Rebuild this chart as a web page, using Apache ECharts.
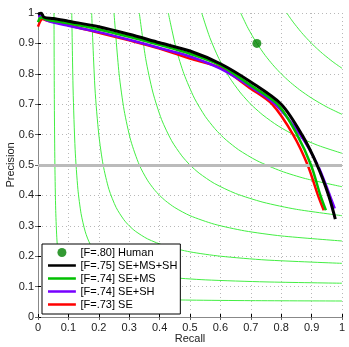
<!DOCTYPE html>
<html>
<head>
<meta charset="utf-8">
<script src="https://cdn.jsdelivr.net/npm/echarts@6/dist/echarts.min.js"></script>
<style>
  html, body { margin: 0; padding: 0; background: #fff; }
  #chart { width: 349px; height: 347px; }
</style>
</head>
<body>
<div id="chart"></div>
<script>
// human point
var humanRecall = [0.72];
var humanPrecision = [0.90];

// SE+MS+SH (black)
var seMsShRecall = [0, 0.01, 0.02, 0.05, 0.1, 0.2, 0.3, 0.4, 0.5, 0.6, 0.7, 0.8, 0.868, 0.918, 0.956, 0.978];
var seMsShPrecision = [0.995, 1.0, 0.986, 0.982, 0.973, 0.955, 0.93, 0.902, 0.875, 0.833, 0.773, 0.70, 0.60, 0.50, 0.40, 0.322];

// SE+MS (green)
var seMsRecall = [0, 0.01, 0.03, 0.1, 0.2, 0.3, 0.4, 0.5, 0.6, 0.7, 0.788, 0.852, 0.898, 0.929, 0.947];
var seMsPrecision = [0.97, 0.985, 0.978, 0.966, 0.946, 0.922, 0.895, 0.866, 0.828, 0.762, 0.70, 0.60, 0.50, 0.40, 0.351];

// SE+SH (purple)
var seShRecall = [0, 0.01, 0.03, 0.1, 0.2, 0.3, 0.4, 0.5, 0.6, 0.7, 0.78, 0.862, 0.92, 0.96, 0.976];
var seShPrecision = [0.99, 0.99, 0.975, 0.958, 0.937, 0.912, 0.885, 0.857, 0.817, 0.757, 0.70, 0.60, 0.50, 0.40, 0.357];

// SE (red)
var seRecall = [0, 0.015, 0.03, 0.1, 0.2, 0.3, 0.4, 0.5, 0.6, 0.7, 0.77, 0.839, 0.887, 0.921, 0.94];
var sePrecision = [0.955, 0.98, 0.975, 0.96, 0.935, 0.91, 0.883, 0.85, 0.82, 0.751, 0.70, 0.60, 0.50, 0.40, 0.351];

// iso-F contours, upper half [recall, precision] (curves are symmetric)
var isoF10 = [[0.0526, 1], [0.0538, 0.7], [0.0556, 0.5], [0.0583, 0.35], [0.0625, 0.25], [0.0692, 0.18], [0.0778, 0.14], [0.0857, 0.12], [0.1, 0.1]];
var isoF20 = [[0.1111, 1], [0.1154, 0.75], [0.1222, 0.55], [0.1313, 0.42], [0.1417, 0.34], [0.1556, 0.28], [0.1714, 0.24], [0.2, 0.2]];
var isoF30 = [[0.1765, 1], [0.1875, 0.75], [0.2, 0.6], [0.2143, 0.5], [0.2333, 0.42], [0.2571, 0.36], [0.2824, 0.32], [0.3, 0.3]];
var isoF40 = [[0.25, 1], [0.2667, 0.8], [0.2833, 0.68], [0.3053, 0.58], [0.3333, 0.5], [0.36, 0.45], [0.3818, 0.42], [0.4, 0.4]];
var isoF50 = [[0.3333, 1], [0.3542, 0.85], [0.3776, 0.74], [0.4063, 0.65], [0.4394, 0.58], [0.4732, 0.53], [0.5, 0.5]];
var isoF60 = [[0.4286, 1], [0.4552, 0.88], [0.48, 0.8], [0.5143, 0.72], [0.55, 0.66], [0.5813, 0.62], [0.6, 0.6]];
var isoF70 = [[0.5385, 1], [0.5649, 0.92], [0.595, 0.85], [0.6284, 0.79], [0.6641, 0.74], [0.6903, 0.71], [0.7, 0.7]];
var isoF80 = [[0.6667, 1], [0.6909, 0.95], [0.72, 0.9], [0.7478, 0.86], [0.7721, 0.83], [0.7902, 0.81], [0.8, 0.8]];
var isoF90 = [[0.8182, 1], [0.8394, 0.97], [0.8633, 0.94], [0.8809, 0.92], [0.9, 0.9]];

var chanceLevel = 0.5;

var legendNames = ['[F=.80] Human', '[F=.75] SE+MS+SH', '[F=.74] SE+MS', '[F=.74] SE+SH', '[F=.73] SE'];

function zip(xs, ys) {
  var out = [];
  for (var i = 0; i < xs.length; i++) out.push([xs[i], ys[i]]);
  return out;
}

// upper half + mirrored lower half
function fullContour(half) {
  var out = half.slice();
  for (var i = half.length - 2; i >= 0; i--) out.push([half[i][1], half[i][0]]);
  return out;
}

var isoColor = '#44ee44';
var isoSeries = [isoF10, isoF20, isoF30, isoF40, isoF50, isoF60, isoF70, isoF80, isoF90].map(function (h, idx) {
  var s = {
    name: 'isoF' + (idx + 1),
    type: 'line',
    data: fullContour(h),
    symbol: 'none',
    smooth: 0.25,
    silent: true,
    z: 1,
    lineStyle: { color: isoColor, width: 1 }
  };
  if (idx === 0) {
    s.markLine = {
      silent: true,
      symbol: 'none',
      label: { show: false },
      lineStyle: { color: '#bbbbbb', width: 3, type: 'solid' },
      data: [{ yAxis: chanceLevel }]
    };
  }
  return s;
});

var font = 'Liberation Sans, Arial, sans-serif';

function curve(name, xs, ys, color, width, z) {
  return {
    name: name,
    type: 'line',
    data: zip(xs, ys),
    symbol: 'none',
    smooth: 0.3,
    z: z,
    lineStyle: { color: color, width: width },
    itemStyle: { color: color }
  };
}

// thin bar icon, padded with specks so it keeps its height inside the item box
var lineIcon = 'path://M0,0h0.01v0.01h-0.01z M0,3.5h31v3h-31z M30.99,10h0.01v0.01h-0.01z';
var legendData = legendNames.map(function (n, i) {
  return { name: n, icon: i === 0 ? 'circle' : lineIcon };
});

var chart = echarts.init(document.getElementById('chart'));
var option = {
  animation: false,
  // keep the plot box fixed (v6 would otherwise shrink it to fit the labels)
  grid: { left: 38, right: 7, top: 13, bottom: 30, outerBoundsMode: 'none', containLabel: false },
  legend: {
    orient: 'vertical',
    left: 42,
    top: 244,
    padding: [3, 3, 4, 6],
    itemGap: 2,
    itemWidth: 31,
    itemHeight: 9,
    backgroundColor: '#fff',
    borderColor: '#000',
    borderWidth: 1,
    textStyle: { fontFamily: font, fontSize: 11, lineHeight: 11, color: '#000', padding: [0, 0, 0, -2] },
    data: legendData
  },
  xAxis: [{
    type: 'value', min: 0, max: 1, interval: 0.1, position: 'bottom',
    name: 'Recall', nameLocation: 'middle', nameGap: 16, nameMoveOverlap: false,
    nameTextStyle: { fontFamily: font, fontSize: 11, color: '#222' },
    axisLine: { lineStyle: { color: '#000', width: 1 } },
    axisTick: { inside: true, length: 3, lineStyle: { color: '#000' } },
    axisLabel: { fontFamily: font, fontSize: 11, color: '#222', margin: 5 },
    splitLine: { show: true, lineStyle: { color: '#b8b8b8', type: [1, 3] } }
  }, {
    type: 'value', min: 0, max: 1, interval: 0.1, position: 'top',
    axisLine: { lineStyle: { color: '#888', width: 1 } },
    axisTick: { inside: true, length: 3, lineStyle: { color: '#666' } },
    axisLabel: { show: false },
    splitLine: { show: false }
  }],
  yAxis: [{
    type: 'value', min: 0, max: 1, interval: 0.1, position: 'left',
    name: 'Precision', nameLocation: 'middle', nameGap: 22, nameMoveOverlap: false,
    nameTextStyle: { fontFamily: font, fontSize: 11, color: '#222' },
    axisLine: { show: true, lineStyle: { color: '#000', width: 1 } },
    axisTick: { show: true, inside: true, length: 3, lineStyle: { color: '#000' } },
    axisLabel: { fontFamily: font, fontSize: 11, color: '#222', margin: 4 },
    splitLine: { show: true, lineStyle: { color: '#b8b8b8', type: [1, 3] } }
  }, {
    type: 'value', min: 0, max: 1, interval: 0.1, position: 'right',
    axisLine: { show: true, lineStyle: { color: '#888', width: 1 } },
    axisTick: { show: true, inside: true, length: 3, lineStyle: { color: '#666' } },
    axisLabel: { show: false },
    splitLine: { show: false }
  }],
  series: isoSeries.concat([
    curve('[F=.73] SE', seRecall, sePrecision, '#ff0000', 2.5, 3),
    curve('[F=.74] SE+SH', seShRecall, seShPrecision, '#7700ff', 2.5, 4),
    curve('[F=.74] SE+MS', seMsRecall, seMsPrecision, '#00c000', 2.5, 5),
    curve('[F=.75] SE+MS+SH', seMsShRecall, seMsShPrecision, '#000000', 3, 6),
    {
      name: '[F=.80] Human',
      type: 'scatter',
      data: zip(humanRecall, humanPrecision),
      symbol: 'circle',
      symbolSize: 9,
      z: 7,
      itemStyle: { color: '#008000' }
    }
  ])
};
chart.setOption(option);
</script>
</body>
</html>
